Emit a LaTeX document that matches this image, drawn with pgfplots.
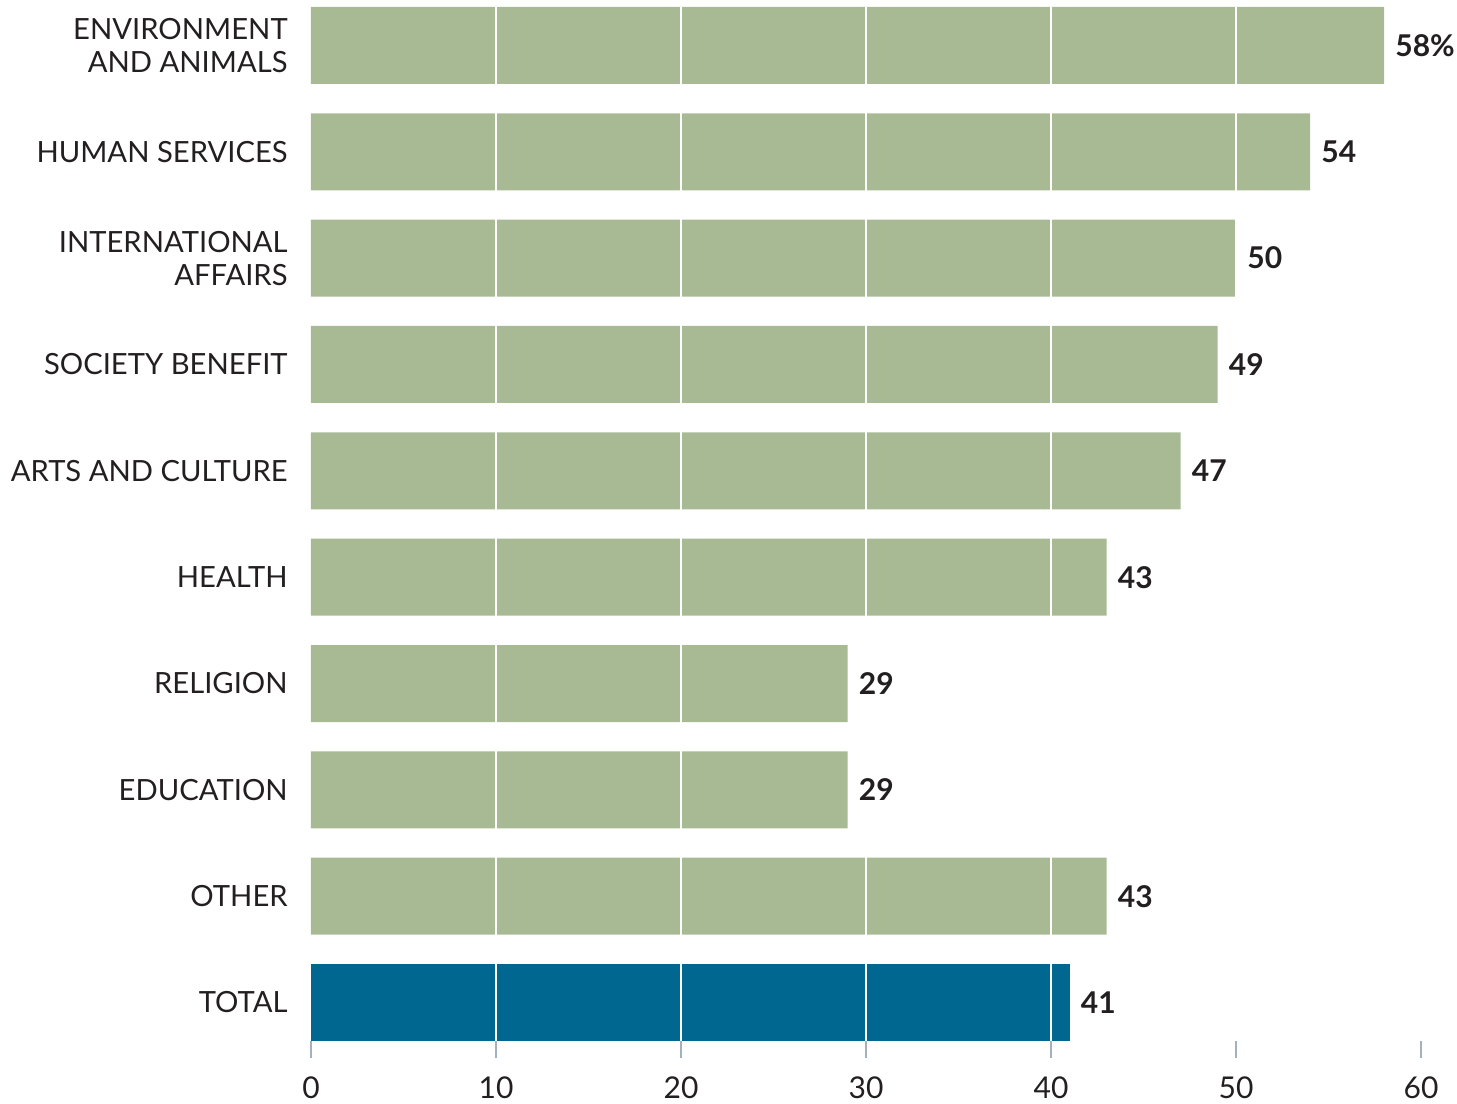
\documentclass[border=0pt]{standalone}
\usepackage{fontspec}
\setmainfont{Lato}
\usepackage{pgfplots}
\pgfplotsset{compat=1.18}
\definecolor{sage}{RGB}{168,186,148}
\definecolor{deepblue}{RGB}{0,103,145}
\definecolor{tickc}{RGB}{160,178,192}
\definecolor{txt}{RGB}{35,31,32}
\begin{document}
\begin{tikzpicture}
\begin{axis}[
    xbar, bar width=38.5pt, bar shift=0pt,
    scale only axis, width=555pt, height=517pt,
    xmin=0, xmax=60, ymin=-0.362, ymax=9.362,
    axis line style={draw=none},
    xtick={0,10,...,60}, ytick={0,...,9},
    xtick pos=lower, ytick pos=left,
    yticklabels={TOTAL,OTHER,EDUCATION,RELIGION,HEALTH,ARTS AND CULTURE,SOCIETY BENEFIT,{INTERNATIONAL\\AFFAIRS},HUMAN SERVICES,{ENVIRONMENT\\AND ANIMALS}},
    y tick label style={align=right, inner sep=0pt, xshift=-3pt, text=txt,
        font=\fontsize{14.6}{16.5}\selectfont},
    x tick label style={inner sep=0pt, yshift=-9pt, text=txt,
        font=\fontsize{15}{16.5}\selectfont},
    /pgf/number format/assume math mode=true,
    ytick style={draw=none},
    xtick style={draw=tickc, line width=0.6pt},
    tick align=outside, major tick length=8.5pt,
    extra x ticks={10,20,30,40,50}, extra x tick labels={},
    extra x tick style={grid=major, major tick length=0pt},
    grid style={white, line width=0.7pt},
    axis on top,
    nodes near coords, point meta=explicit symbolic,
    nodes near coords style={anchor=west, inner sep=0pt, xshift=5.5pt, text=txt,
        font=\fontsize{15}{16.5}\selectfont\bfseries},
    clip=false,
]
\addplot[fill=sage, draw=none] coordinates {
    (43,1) [43] (29,2) [29] (29,3) [29] (43,4) [43] (47,5) [47]
    (49,6) [49] (50,7) [50] (54,8) [54] (58,9) [58\%]};
\addplot[fill=deepblue, draw=none] coordinates {(41,0) [41]};
\coordinate (bl) at (rel axis cs:0,0);
\coordinate (tr) at (rel axis cs:1,1);
\end{axis}
\path ([shift={(-155.5pt,-31pt)}]bl) rectangle ([shift={(18pt,3.5pt)}]tr);
\end{tikzpicture}
\end{document}
